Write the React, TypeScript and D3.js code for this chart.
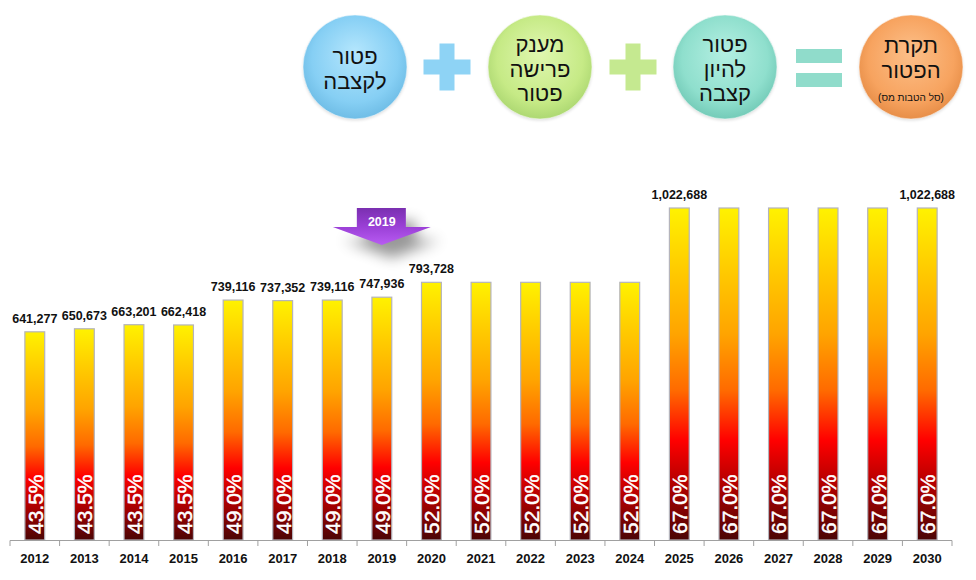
import React from "react";
import * as d3 from "d3";

const years = ["2012","2013","2014","2015","2016","2017","2018","2019","2020","2021","2022","2023","2024","2025","2026","2027","2028","2029","2030"];
const values = [641277,650673,663201,662418,739116,737352,739116,747936,793728,793728,793728,793728,793728,1022688,1022688,1022688,1022688,1022688,1022688];
const rates = [43.5,43.5,43.5,43.5,49.0,49.0,49.0,49.0,52.0,52.0,52.0,52.0,52.0,67.0,67.0,67.0,67.0,67.0,67.0];
const showValue = [true,true,true,true,true,true,true,true,true,false,false,false,false,true,false,false,false,false,true];
const markerYear = "2019";

const bubbleLines = [
  ["פטור", "לקצבה"],
  ["מענק", "פרישה", "פטור"],
  ["פטור", "להיון", "קצבה"],
  ["תקרת", "הפטור"],
];
const bubbleNote = "(סל הטבות מס)";
const bubbleColors = [
  ["#b4e6fd", "#86cff4", "#6fbde6"],
  ["#e0f7b0", "#c6ea86", "#add872"],
  ["#b4efe2", "#8fdfcd", "#74cbb8"],
  ["#fcc08a", "#f7a35f", "#e78e48"],
];
const operatorColors = ["#8ed3f5", "#c5e990", "#90dccb"];

const W = 976, H = 580;
const FONT = "'Liberation Sans', Arial, 'DejaVu Sans', sans-serif";

export default function App() {
  const x = d3.scaleBand<string>().domain(years).range([10, 952]).paddingInner(0.6).paddingOuter(0.3);
  const y = d3.scaleLinear().domain([0, 1100000]).range([540, 182.9]);
  const fmt = d3.format(",");
  const bw = x.bandwidth();
  const bandStart = (i: number) => 10 + i * ((952 - 10) / years.length);

  const bubbleCx = [355, 540, 725, 911];
  const cy = 67;
  const r = 52;

  const mx = (x(markerYear) as number) + bw / 2;

  const plus = (cx: number, color: string, key: string) => {
    const s = 23.5, t = 7.5;
    return (
      <g key={key}>
        <rect x={cx - t} y={cy - s} width={2 * t} height={2 * s} fill={color} />
        <rect x={cx - s} y={cy - t} width={2 * s} height={2 * t} fill={color} />
      </g>
    );
  };

  return (
    <svg width={W} height={H} style={{ position: "absolute", left: 0, top: 0, background: "#fff" }} fontFamily={FONT}>
      <defs>
        <linearGradient id="barGrad" x1="0" y1="0" x2="0" y2="1">
          <stop offset="0" stopColor="#fff200" />
          <stop offset="0.18" stopColor="#ffcc00" />
          <stop offset="0.38" stopColor="#ffa400" />
          <stop offset="0.55" stopColor="#ff6a00" />
          <stop offset="0.7" stopColor="#ff0000" />
          <stop offset="0.85" stopColor="#a80000" />
          <stop offset="1" stopColor="#4a0505" />
        </linearGradient>
        {bubbleColors.map((c, i) => (
          <radialGradient key={i} id={`bub${i}`} cx="0.5" cy="0.45" r="0.55" fx="0.5" fy="0.35">
            <stop offset="0" stopColor={c[0]} />
            <stop offset="0.75" stopColor={c[1]} />
            <stop offset="1" stopColor={c[2]} />
          </radialGradient>
        ))}
        <linearGradient id="arrowGrad" x1="0" y1="0" x2="0" y2="1">
          <stop offset="0" stopColor="#7a2fb0" />
          <stop offset="0.5" stopColor="#9a3fd6" />
          <stop offset="1" stopColor="#b85cf2" />
        </linearGradient>
        <filter id="shadow" x="-50%" y="-50%" width="200%" height="250%">
          <feGaussianBlur stdDeviation="7" />
        </filter>
        <filter id="bubShadow" x="-30%" y="-30%" width="160%" height="160%">
          <feGaussianBlur stdDeviation="1.5" />
        </filter>
      </defs>

      {/* top equation */}
      {bubbleCx.map((cx, i) => (
        <g key={`b${i}`}>
          <ellipse cx={cx} cy={cy + 1.5} rx={r} ry={r} fill="#000" opacity={0.12} filter="url(#bubShadow)" />
          <ellipse cx={cx} cy={cy} rx={r} ry={r} fill={`url(#bub${i})`} stroke="#ffffff" strokeOpacity={0.5} strokeWidth={1} />
          {bubbleLines[i].map((ln, j) => {
            const n = bubbleLines[i].length;
            const baseY = n === 3 ? 52 : i === 3 ? 53 : 64;
            return (
              <text key={j} x={cx} y={baseY + j * 24.5} textAnchor="middle" direction="rtl" fontSize={22} fill="#111">
                {ln}
              </text>
            );
          })}
          {i === 3 && (
            <text x={cx} y={101} textAnchor="middle" direction="rtl" fontSize={10} fill="#111">
              {bubbleNote}
            </text>
          )}
        </g>
      ))}
      {plus(447, operatorColors[0], "p1")}
      {plus(633, operatorColors[1], "p2")}
      <rect x={796} y={49} width={46} height={14} fill={operatorColors[2]} />
      <rect x={796} y={73} width={46} height={14} fill={operatorColors[2]} />

      {/* bars */}
      {years.map((yr, i) => {
        const bx = x(yr) as number;
        const top = y(values[i]);
        return (
          <g key={yr}>
            <rect x={bx} y={top} width={bw} height={y(0) - top} fill="url(#barGrad)" stroke="#b4b4bc" strokeWidth={1.2} />
            <text
              transform={`translate(${bx + bw / 2 + 8},${y(0) - 6}) rotate(-90)`}
              fontSize={21}
              fill="#fff"
              stroke="#fff"
              strokeWidth={0.5}
              textAnchor="start"
            >
              {rates[i].toFixed(1) + "%"}
            </text>
            {showValue[i] && (
              <text x={bx + bw / 2} y={top - 9} textAnchor="middle" fontSize={12.5} fontWeight="bold" fill="#111">
                {fmt(values[i])}
              </text>
            )}
          </g>
        );
      })}

      {/* axis */}
      <line x1={10} x2={952} y1={540.5} y2={540.5} stroke="#a0a0a0" strokeWidth={1} />
      {d3.range(years.length + 1).map((i) => (
        <line key={`t${i}`} x1={bandStart(i)} x2={bandStart(i)} y1={540.5} y2={546} stroke="#a0a0a0" strokeWidth={1} />
      ))}
      {years.map((yr) => (
        <text key={`l${yr}`} x={(x(yr) as number) + bw / 2} y={563} textAnchor="middle" fontSize={13} fontWeight="bold" fill="#111">
          {yr}
        </text>
      ))}

      {/* 2019 marker arrow */}
      <g>
        <path
          d={`M${mx - 25},${209} H${mx + 24} V${228} H${mx + 49} L${mx},${246} L${mx - 49},${228} H${mx - 25} Z`}
          transform="translate(10,12)"
          fill="#000"
          opacity={0.4}
          filter="url(#shadow)"
        />
        <path
          d={`M${mx - 25},${208} H${mx + 24} V${227} H${mx + 49} L${mx},${245} L${mx - 49},${227} H${mx - 25} Z`}
          fill="url(#arrowGrad)"
        />
        <text x={mx} y={226} textAnchor="middle" fontSize={12.5} fontWeight="bold" fill="#fff">
          {markerYear}
        </text>
      </g>
    </svg>
  );
}
